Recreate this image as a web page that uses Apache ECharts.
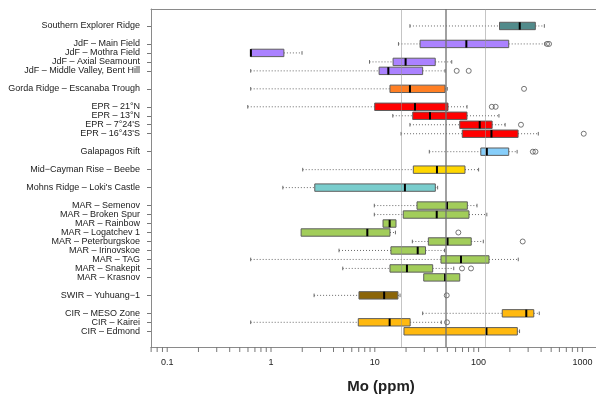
<!DOCTYPE html>
<html>
<head>
<meta charset="utf-8">
<script src="https://cdn.jsdelivr.net/npm/echarts@6/dist/echarts.min.js"></script>
<style>
html,body{margin:0;padding:0;background:#fff}
#chart{width:596px;height:401px}
</style>
</head>
<body>
<div id="chart"></div>
<script>
// Molybdenum concentrations in vent fluids/deposits by site (ppm), box summaries
const sites = [
  'Southern Explorer Ridge',
  'JdF – Main Field', 'JdF – Mothra Field', 'JdF – Axial Seamount', 'JdF – Middle Valley, Bent Hill',
  'Gorda Ridge – Escanaba Trough',
  'EPR – 21°N', 'EPR – 13°N', "EPR – 7°24'S", "EPR – 16°43'S",
  'Galapagos Rift',
  'Mid−Cayman Rise – Beebe',
  "Mohns Ridge – Loki's Castle",
  'MAR – Semenov', 'MAR – Broken Spur', 'MAR – Rainbow', 'MAR – Logatchev 1', 'MAR – Peterburgskoe',
  'MAR – Irinovskoe', 'MAR – TAG', 'MAR – Snakepit', 'MAR – Krasnov',
  'SWIR – Yuhuang−1',
  'CIR – MESO Zone', 'CIR – Kairei', 'CIR – Edmond'
];
const regions = [
  'SER',
  'JdF', 'JdF', 'JdF', 'JdF',
  'Gorda',
  'EPR', 'EPR', 'EPR', 'EPR',
  'Galapagos',
  'Cayman',
  'Mohns',
  'MAR', 'MAR', 'MAR', 'MAR', 'MAR', 'MAR', 'MAR', 'MAR', 'MAR',
  'SWIR',
  'CIR', 'CIR', 'CIR'
];
const whiskerLow  = [21.8, 16.9, 0.637, 8.89, 0.637, 0.637, 0.597, 14.9, 21.8, 17.9, 33.5, 2.02, 1.30, 9.89, 9.89, 12.0, 1.95, 23.0, 4.52, 0.637, 4.91, 29.6, 2.60, 28.9, 0.637, 19.1];
const quartile1   = [159, 27.3, 0.637, 15.0, 11.0, 14.0, 9.98, 23.2, 65.8, 69.6, 105, 23.5, 2.64, 25.5, 18.8, 12.0, 1.95, 32.8, 14.3, 43.4, 14.0, 29.6, 7.04, 169, 6.93, 19.1];
const median      = [249, 76.2, 0.64, 19.8, 13.5, 21.8, 24.4, 34.0, 102.5, 133, 120, 39.7, 19.5, 49.6, 39.5, 13.9, 8.47, 50.2, 25.9, 67.7, 20.4, 47.5, 12.3, 288, 13.9, 119];
const quartile3   = [352, 195, 1.33, 38.2, 28.9, 47.5, 50.7, 77.3, 135, 240, 195, 73.9, 38.3, 77.9, 80.8, 16.0, 14.0, 84.9, 30.8, 126, 36.1, 65.8, 16.7, 340, 21.9, 236];
const whiskerHigh = [430, 436, 1.99, 55.1, 47.5, 49.9, 77.3, 157, 180, 376, 235, 100, 40.3, 96.5, 120, 16.0, 15.8, 111, 46.9, 241, 57.6, 65.8, 17.5, 384, 43.7, 248];

// Outliers: site index and value
const outlierSite  = [1, 1, 4, 4, 5, 6, 6, 8, 9, 10, 10, 16, 17, 20, 20, 22, 24];
const outlierValue = [456, 477, 61.5, 80.3, 274, 134, 146, 256, 1030, 333, 353, 63.8, 266, 69.2, 84.5, 49.3, 49.6];

// Reference concentrations (vertical guides)
const refLines = [18, 48, 117];

const xTickLabels = [0.1, 1, 10, 100, 1000];
const xMinorTicks = [0.07, 0.08, 0.09, 0.2, 0.3, 0.4, 0.5, 0.6, 0.7, 0.8, 0.9,
  2, 3, 4, 5, 6, 7, 8, 9, 20, 30, 40, 50, 60, 70, 80, 90,
  200, 300, 400, 500, 600, 700, 800, 900];

const regionColors = {
  SER: '#528B8B', JdF: '#AB82FF', Gorda: '#FF7F24', EPR: '#FF0000',
  Galapagos: '#87CEFA', Cayman: '#FFD700', Mohns: '#79CDCD', MAR: '#A2CD5A',
  SWIR: '#8B6508', CIR: '#FFB90F'
};

// Row positions: one row per site, an empty row between regions
const slots = [];
regions.forEach((r, i) => {
  if (i === 0) slots.push(0);
  else slots.push(slots[i - 1] + (r === regions[i - 1] ? 1 : 2));
});
const labelBySlot = {};
slots.forEach((s, i) => { labelBySlot[s] = sites[i]; });

const yMin = -1.89, yMax = 35.75;
const xMin = 0.0698, xMax = 1352;
const FONT = "'Liberation Sans', Arial, sans-serif";
const FRAME = '#8a8a8a';

const boxData = sites.map((_, i) => [slots[i], whiskerLow[i], quartile1[i], median[i], quartile3[i], whiskerHigh[i]]);
const outlierData = outlierSite.map((s, k) => [outlierValue[k], slots[s]]);
const tickData = xTickLabels.concat(xMinorTicks).map(v => [v, yMax]);

const HALF = 3.7;
const whiskerStyle = { stroke: '#6a6a6a', lineWidth: 1, lineDash: [1, 2] };
const capStyle = { stroke: '#6a6a6a', lineWidth: 1 };

function renderBox(params, api) {
  const i = params.dataIndex;
  const y = api.value(0);
  const pLo = api.coord([api.value(1), y]);
  const pQ1 = api.coord([api.value(2), y]);
  const pMed = api.coord([api.value(3), y]);
  const pQ3 = api.coord([api.value(4), y]);
  const pHi = api.coord([api.value(5), y]);
  const cy = pQ1[1];
  const children = [];
  if (pLo[0] < pQ1[0] - 0.5) {
    children.push({ type: 'line', shape: { x1: pLo[0], y1: cy, x2: pQ1[0], y2: cy }, style: whiskerStyle });
    children.push({ type: 'line', shape: { x1: pLo[0], y1: cy - 1.8, x2: pLo[0], y2: cy + 1.8 }, style: capStyle });
  }
  if (pHi[0] > pQ3[0] + 0.5) {
    children.push({ type: 'line', shape: { x1: pQ3[0], y1: cy, x2: pHi[0], y2: cy }, style: whiskerStyle });
    children.push({ type: 'line', shape: { x1: pHi[0], y1: cy - 1.8, x2: pHi[0], y2: cy + 1.8 }, style: capStyle });
  }
  children.push({
    type: 'rect',
    shape: { x: pQ1[0], y: cy - HALF, width: pQ3[0] - pQ1[0], height: HALF * 2 },
    style: { fill: regionColors[regions[i]], stroke: '#5e5e5e', lineWidth: 1 }
  });
  children.push({
    type: 'line',
    shape: { x1: pMed[0], y1: cy - HALF, x2: pMed[0], y2: cy + HALF },
    style: { stroke: '#000', lineWidth: 2 }
  });
  return { type: 'group', children };
}

function renderTick(params, api) {
  const p = api.coord([api.value(0), api.value(1)]);
  return { type: 'line', shape: { x1: p[0], y1: p[1], x2: p[0], y2: p[1] + 5 }, style: { stroke: '#777', lineWidth: 1 } };
}

const chart = echarts.init(document.getElementById('chart'), null, { renderer: 'canvas' });
chart.setOption({
  animation: false,
  backgroundColor: '#fff',
  grid: { left: 151, top: 9, right: 0, bottom: 54, show: false },
  xAxis: [
    {
      type: 'log', logBase: 10, min: xMin, max: xMax, position: 'bottom',
      axisLine: { show: true, onZero: false, lineStyle: { color: FRAME, width: 1 } },
      axisTick: { show: false }, splitLine: { show: false },
      axisLabel: {
        showMinLabel: false, showMaxLabel: false,
        fontFamily: FONT, fontSize: 9, color: '#222', margin: 11,
        formatter: v => String(Number(Number(v).toPrecision(6)))
      },
      name: 'Mo (ppm)', nameLocation: 'middle', nameGap: 32,
      nameTextStyle: { fontFamily: FONT, fontSize: 15, fontWeight: 'bold', color: '#222', padding: [0, 0, 0, 15] }
    },
    {
      // top frame line of the plotting region
      type: 'log', logBase: 10, min: xMin, max: xMax, position: 'top',
      axisLine: { show: true, onZero: false, lineStyle: { color: FRAME, width: 1 } },
      axisTick: { show: false }, axisLabel: { show: false }, splitLine: { show: false }
    }
  ],
  yAxis: {
    type: 'value', inverse: true, min: yMin, max: yMax,
    axisLine: { show: true, onZero: false, lineStyle: { color: FRAME, width: 1 } },
    splitLine: { show: false },
    axisTick: { show: true, length: 4, lineStyle: { color: '#777' }, customValues: slots },
    axisLabel: {
      customValues: slots, margin: 11,
      fontFamily: FONT, fontSize: 9, color: '#222',
      formatter: v => labelBySlot[v] || ''
    }
  },
  series: [
    {
      type: 'custom', name: 'boxes', renderItem: renderBox, data: boxData,
      encode: { x: [1, 2, 3, 4, 5], y: 0 }, z: 2, silent: true
    },
    {
      type: 'scatter', name: 'outliers', data: outlierData, symbol: 'circle', symbolSize: 5,
      itemStyle: { color: 'rgba(0,0,0,0)', borderColor: '#555', borderWidth: 1 }, z: 4, silent: true,
      markLine: {
        silent: true, symbol: 'none', label: { show: false },
        data: [
          { xAxis: refLines[0], lineStyle: { color: 'rgba(150,150,150,0.55)', width: 1, type: 'solid' } },
          { xAxis: refLines[1], lineStyle: { color: 'rgba(110,110,110,0.65)', width: 2, type: 'solid' } },
          { xAxis: refLines[2], lineStyle: { color: 'rgba(150,150,150,0.55)', width: 1, type: 'solid' } }
        ]
      }
    },
    {
      type: 'custom', name: 'xticks', renderItem: renderTick, data: tickData,
      encode: { x: 0, y: 1 }, clip: false, z: 5, silent: true
    }
  ]
});
</script>
</body>
</html>
